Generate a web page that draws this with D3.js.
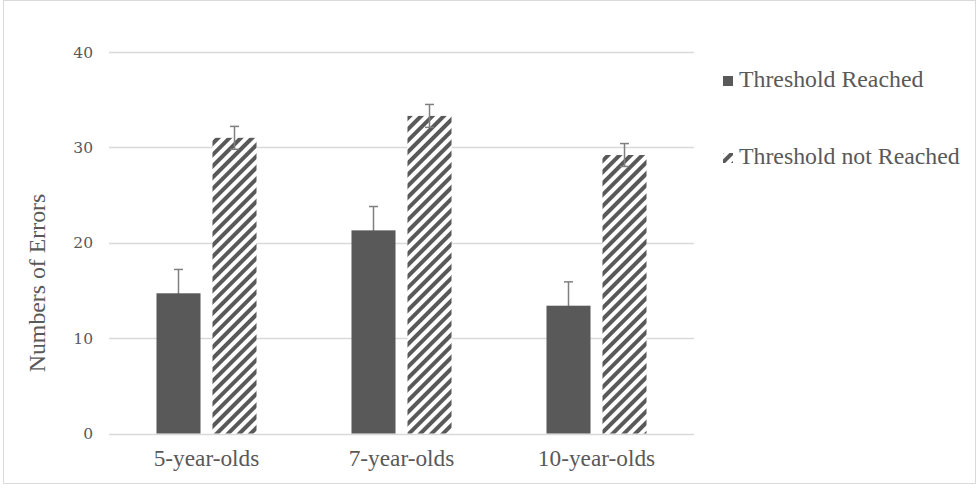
<!DOCTYPE html>
<html>
<head>
<meta charset="utf-8">
<script src="https://cdn.jsdelivr.net/npm/d3@7"></script>
<style>
  body { margin: 0; background: #fff; }
  svg { display: block; }
</style>
</head>
<body>
<svg width="977" height="490"></svg>
<script>
// chart data
const categories = ["5-year-olds", "7-year-olds", "10-year-olds"];
const seriesNames = ["Threshold Reached", "Threshold not Reached"];
const reachedValues = [14.7, 21.3, 13.4];
const reachedErrors = [2.5, 2.5, 2.5];
const notReachedValues = [31.0, 33.3, 29.2];
const notReachedErrors = [1.2, 1.2, 1.2];
const yTicks = [0, 10, 20, 30, 40];

const textColor = "#595959";
const barColor = "#595959";
const gridColor = "#d9d9d9";

let margin = { top: 52, left: 109, right: 284, bottom: 57 };
let width = 977 - margin.left - margin.right,
  height = 490 - margin.top - margin.bottom;

let svg = d3.select("svg");

// outer chart border
svg
  .append("rect")
  .attr("x", 3.5)
  .attr("y", 0.5)
  .attr("width", 972)
  .attr("height", 483)
  .attr("fill", "none")
  .attr("stroke", gridColor);

// hatch pattern
const defs = svg.append("defs");
defs
  .append("pattern")
  .attr("id", "hatch")
  .attr("patternUnits", "userSpaceOnUse")
  .attr("width", 8)
  .attr("height", 8)
  .attr("patternTransform", "rotate(45)")
  .call((p) => {
    p.append("rect").attr("width", 8).attr("height", 8).attr("fill", "#fff");
    p.append("rect").attr("x", 0).attr("width", 4).attr("height", 8).attr("fill", barColor);
  });

const g = svg.append("g").attr("transform", `translate(${margin.left},${margin.top})`);

const y = d3.scaleLinear().domain([0, 40]).range([381.5, 0]);

const x0 = d3
  .scaleBand()
  .domain(categories)
  .range([0, 585])
  .paddingInner(0.487)
  .paddingOuter(0.2435);

const x1 = d3
  .scaleBand()
  .domain(seriesNames)
  .range([0, x0.bandwidth()])
  .paddingInner(0.214);

// gridlines
g.selectAll("line.grid")
  .data(yTicks)
  .enter()
  .append("line")
  .attr("class", "grid")
  .attr("x1", 0)
  .attr("x2", 585)
  .attr("y1", (d) => Math.round(y(d)) + 0.5)
  .attr("y2", (d) => Math.round(y(d)) + 0.5)
  .attr("stroke", gridColor)
  .attr("stroke-width", 1.3);

// y tick labels
g.selectAll("text.ytick")
  .data(yTicks)
  .enter()
  .append("text")
  .attr("class", "ytick")
  .attr("x", -16)
  .attr("y", (d) => y(d) + 5.5)
  .attr("text-anchor", "end")
  .attr("font-family", "DejaVu Serif")
  .attr("font-size", "15.5px")
  .attr("fill", textColor)
  .text((d) => d);

// x category labels
g.selectAll("text.xlabel")
  .data(categories)
  .enter()
  .append("text")
  .attr("class", "xlabel")
  .attr("x", (d) => x0(d) + x0.bandwidth() / 2)
  .attr("y", 414)
  .attr("text-anchor", "middle")
  .attr("font-family", "Liberation Serif")
  .attr("font-size", "23.3px")
  .attr("fill", textColor)
  .text((d) => d);

// y axis title
svg
  .append("text")
  .attr("transform", "translate(45,283) rotate(-90)")
  .attr("text-anchor", "middle")
  .attr("font-family", "Liberation Serif")
  .attr("font-size", "23.8px")
  .attr("fill", textColor)
  .text("Numbers of Errors");

function errorBars(values, errors, series) {
  categories.forEach((c, i) => {
    const cx = x0(c) + x1(series) + x1.bandwidth() / 2;
    const top = y(values[i] + errors[i]);
    const bot = y(values[i] - errors[i]);
    const eg = g.append("g").attr("stroke", "#7f7f7f").attr("stroke-width", 1.5);
    eg.append("line").attr("x1", cx).attr("x2", cx).attr("y1", top).attr("y2", bot);
    eg.append("line").attr("x1", cx - 4.5).attr("x2", cx + 4.5).attr("y1", top).attr("y2", top);
    eg.append("line").attr("x1", cx - 4.5).attr("x2", cx + 4.5).attr("y1", bot).attr("y2", bot);
  });
}

// hatched bars
g.selectAll("rect.notreached")
  .data(notReachedValues)
  .enter()
  .append("rect")
  .attr("class", "notreached")
  .attr("x", (d, i) => x0(categories[i]) + x1(seriesNames[1]))
  .attr("y", (d) => y(d))
  .attr("width", x1.bandwidth())
  .attr("height", (d) => y(0) - y(d))
  .attr("fill", "url(#hatch)");

errorBars(reachedValues, reachedErrors, seriesNames[0]);
errorBars(notReachedValues, notReachedErrors, seriesNames[1]);

// solid bars
g.selectAll("rect.reached")
  .data(reachedValues)
  .enter()
  .append("rect")
  .attr("class", "reached")
  .attr("x", (d, i) => x0(categories[i]) + x1(seriesNames[0]))
  .attr("y", (d) => y(d))
  .attr("width", x1.bandwidth())
  .attr("height", (d) => y(0) - y(d))
  .attr("fill", barColor);

// legend
const legend = svg.append("g");
const legendRows = [
  { name: seriesNames[0], fill: barColor, y: 87 },
  { name: seriesNames[1], fill: "url(#hatch)", y: 164 },
];
legendRows.forEach((r) => {
  legend
    .append("rect")
    .attr("x", 723)
    .attr("y", r.y - 11)
    .attr("width", 10)
    .attr("height", 10)
    .attr("fill", r.fill);
  legend
    .append("text")
    .attr("x", 739)
    .attr("y", r.y)
    .attr("font-family", "Liberation Serif")
    .attr("font-size", "23.8px")
    .attr("fill", textColor)
    .text(r.name);
});
</script>
</body>
</html>
